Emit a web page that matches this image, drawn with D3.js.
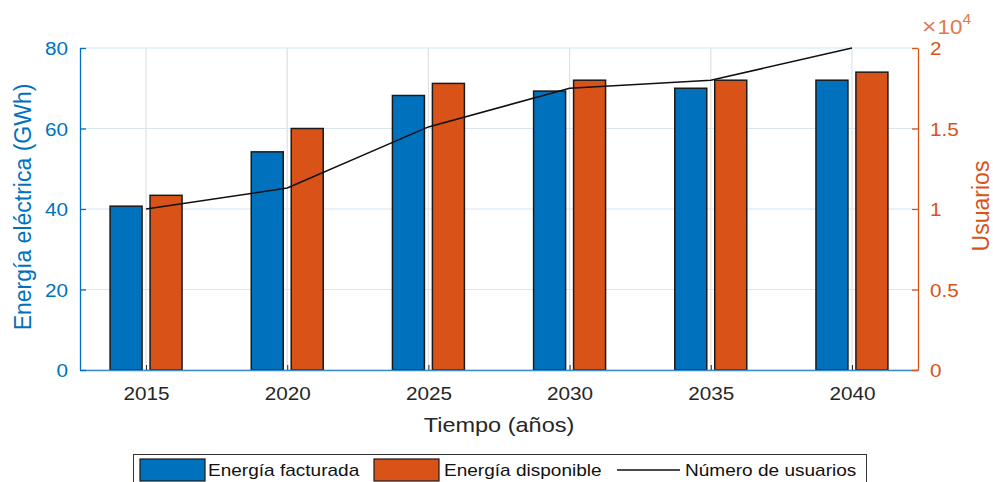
<!DOCTYPE html>
<html><head><meta charset="utf-8">
<script src="https://cdn.jsdelivr.net/npm/d3@7"></script>
<style>
html,body{margin:0;padding:0;background:#fff;}
svg{display:block;font-family:"Liberation Sans",Arial,Helvetica,sans-serif;}
</style></head>
<body><svg id="c" width="993" height="482"></svg>
<script>
const years = [2015, 2020, 2025, 2030, 2035, 2040];
const energiaFacturada = [40.7, 54.2, 68.2, 69.3, 70.0, 72.0];
const energiaDisponible = [43.4, 60.0, 71.2, 72.0, 72.0, 74.0];
const usuarios = [10000, 11300, 15100, 17500, 18000, 20000];
const leftTicks = [0, 20, 40, 60, 80];
const rightTicks = [0, 5000, 10000, 15000, 20000];
const rightTickLabels = ["0", "0.5", "1", "1.5", "2"];
const legendLabels = ["Energía facturada", "Energía disponible", "Número de usuarios"];

const BLUE = "#0072BD", ORANGE = "#D95319", DARK = "#262626";
const L = 80, R = 918, T = 48, B = 370;
const SX = 1.12; // horizontal glyph stretch
const svg = d3.select("#c");

const x = d3.scaleLinear().domain([2012.66, 2042.34]).range([L, R]);
const yL = d3.scaleLinear().domain([0, 80]).range([B, T]);
const yR = d3.scaleLinear().domain([0, 20000]).range([B, T]);
const off = 0.708, bw = 1.133; // in years

// grid
svg.append("g").selectAll("line").data(years).join("line")
  .attr("x1", d => x(d)).attr("x2", d => x(d)).attr("y1", T).attr("y2", B)
  .attr("stroke", "#dfe1e4").attr("stroke-width", 1.2);
svg.append("g").selectAll("line").data(leftTicks).join("line")
  .attr("x1", L).attr("x2", R).attr("y1", d => yL(d)).attr("y2", d => yL(d))
  .attr("stroke", "#d6e6f3").attr("stroke-width", 1.2);

// bars
const bars = svg.append("g").attr("stroke", "#1a1a1a").attr("stroke-width", 1.5);
bars.selectAll("rect.f").data(years).join("rect").attr("class", "f")
  .attr("x", d => x(d - off - bw / 2)).attr("width", d => x(d + bw) - x(d))
  .attr("y", (d, i) => yL(energiaFacturada[i])).attr("height", (d, i) => B - yL(energiaFacturada[i]))
  .attr("fill", BLUE);
bars.selectAll("rect.d").data(years).join("rect").attr("class", "d")
  .attr("x", d => x(d + off - bw / 2)).attr("width", d => x(d + bw) - x(d))
  .attr("y", (d, i) => yL(energiaDisponible[i])).attr("height", (d, i) => B - yL(energiaDisponible[i]))
  .attr("fill", ORANGE);

// line
svg.append("path").datum(years)
  .attr("d", d3.line().x(d => x(d)).y((d, i) => yR(usuarios[i])))
  .attr("fill", "none").attr("stroke", "#111").attr("stroke-width", 1.6);

// axes
const xa = svg.append("g").attr("transform", `translate(0,${B})`)
  .call(d3.axisBottom(x).tickValues(years).tickFormat(d3.format("d")).tickSizeInner(-5).tickSizeOuter(0));
xa.select(".domain").attr("stroke", "#3a8ccc").attr("stroke-width", 1.3);
xa.selectAll(".tick line").attr("stroke", DARK);
xa.selectAll(".tick text").attr("y", 0).attr("dy", 0)
  .attr("transform", `translate(0,30) scale(${SX},1)`)
  .attr("fill", DARK).attr("font-size", 18.5).attr("font-family", "Liberation Sans, Arial, sans-serif");

const la = svg.append("g").attr("transform", `translate(${L},0)`)
  .call(d3.axisLeft(yL).tickValues(leftTicks).tickSizeInner(-6).tickSizeOuter(0));
la.select(".domain").attr("stroke", BLUE).attr("stroke-width", 1.3);
la.selectAll(".tick line").attr("stroke", BLUE).attr("stroke-width", 1.3);
la.selectAll(".tick text").attr("x", 0).attr("dy", 0)
  .attr("transform", `translate(-12,6.5) scale(${SX},1)`)
  .attr("fill", BLUE).attr("font-size", 18.5).attr("font-family", "Liberation Sans, Arial, sans-serif");

const ra = svg.append("g").attr("transform", `translate(${R},0)`)
  .call(d3.axisRight(yR).tickValues(rightTicks).tickFormat((d, i) => rightTickLabels[i]).tickSizeInner(-6).tickSizeOuter(0));
ra.select(".domain").attr("stroke", ORANGE).attr("stroke-width", 1.3);
ra.selectAll(".tick line").attr("stroke", ORANGE).attr("stroke-width", 1.3);
ra.selectAll(".tick text").attr("x", 0).attr("dy", 0)
  .attr("transform", `translate(12,6.5) scale(${SX},1)`)
  .attr("fill", ORANGE).attr("font-size", 18.5).attr("font-family", "Liberation Sans, Arial, sans-serif");

// exponent
const ex = svg.append("text").attr("transform", `translate(922,34) scale(${SX},1)`)
  .attr("fill", "#e07a4c").attr("font-size", 20);
ex.append("tspan").attr("font-size", 22).text("×");
ex.append("tspan").attr("dx", 1).text("10");
ex.append("tspan").attr("font-size", 14).attr("dy", -10).text("4");

// axis labels
svg.append("text").attr("transform", `translate(${(L + R) / 2},432) scale(${SX},1)`)
  .attr("text-anchor", "middle").attr("fill", DARK).attr("font-size", 21).text("Tiempo (años)");
svg.append("text").attr("transform", `translate(31,207) rotate(-90)`)
  .attr("text-anchor", "middle").attr("fill", BLUE).attr("font-size", 23).text("Energía eléctrica (GWh)");
svg.append("text").attr("transform", `translate(989,206) rotate(-90)`)
  .attr("text-anchor", "middle").attr("fill", ORANGE).attr("font-size", 23).text("Usuarios");

// legend
const lg = svg.append("g");
lg.append("rect").attr("x", 133.5).attr("y", 454.5).attr("width", 733).attr("height", 40)
  .attr("fill", "#fff").attr("stroke", "#333").attr("stroke-width", 1);
const swX = [140, 374];
const swColors = [BLUE, ORANGE];
lg.selectAll("rect.sw").data(swX).join("rect").attr("class", "sw")
  .attr("x", d => d).attr("y", 459).attr("width", 65).attr("height", 22)
  .attr("fill", (d, i) => swColors[i]).attr("stroke", "#1a1a1a").attr("stroke-width", 1.2);
lg.append("line").attr("x1", 617).attr("x2", 680).attr("y1", 470).attr("y2", 470)
  .attr("stroke", "#111").attr("stroke-width", 1.6);
const txX = [208, 444, 685];
lg.selectAll("text").data(legendLabels).join("text")
  .attr("transform", (d, i) => `translate(${txX[i]},476) scale(${SX},1)`)
  .attr("fill", "#111").attr("font-size", 17).text(d => d);
</script></body></html>
